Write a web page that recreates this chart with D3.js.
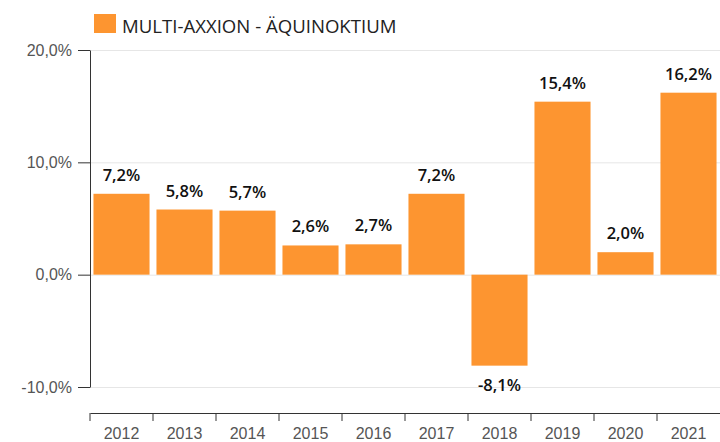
<!DOCTYPE html>
<html>
<head>
<meta charset="utf-8">
<script src="https://cdn.jsdelivr.net/npm/d3@7"></script>
<style>
  body { margin: 0; background: #fff; }
  svg { font-family: "Open Sans", sans-serif; }
  .axis path, .axis line { stroke: #333; }
  .axis text { fill: #555; font-size: 16px; }
  .grid line { stroke: #e6e6e6; }
  .grid path { display: none; }
</style>
</head>
<body>
<svg id="chart" width="720" height="442"></svg>
<script>
const years = ["2012","2013","2014","2015","2016","2017","2018","2019","2020","2021"]
const returns = [7.2, 5.8, 5.7, 2.6, 2.7, 7.2, -8.1, 15.4, 2.0, 16.2]
const yTicks = [-10, 0, 10, 20]
const seriesName = "MULTI-AXXION - ÄQUINOKTIUM"

const barColor = "#fd9530"
// comma decimals and a plain hyphen for negatives
const fmt = v => d3.format(".1f")(v).replace(".", ",").replace("\u2212", "-") + "%"

const svg = d3.select("#chart")
const plot = {left: 90, right: 720, top: 50, bottom: 387, axisY: 413}

const xScale = d3.scaleBand()
    .domain(years)
    .range([plot.left, plot.right])
    .paddingInner(0.11)
    .paddingOuter(0.055)

const yScale = d3.scaleLinear()
    .domain([-10, 20])
    .range([plot.bottom, plot.top])

// gridlines
svg.append("g")
    .attr("class","grid")
    .attr("transform","translate("+plot.left+",0)")
    .call(d3.axisRight(yScale).tickValues(yTicks).tickSize(plot.right - plot.left).tickFormat(""))

// bars
svg.append("g").selectAll("rect")
    .data(years)
    .join("rect")
    .attr("x", d => xScale(d))
    .attr("width", xScale.bandwidth())
    .attr("y", (d,i) => yScale(Math.max(0, returns[i])))
    .attr("height", (d,i) => Math.abs(yScale(returns[i]) - yScale(0)))
    .attr("fill", barColor)

// value labels
svg.append("g").selectAll("text")
    .data(years)
    .join("text")
    .attr("x", d => xScale(d) + xScale.bandwidth()/2)
    .attr("y", (d,i) => returns[i] >= 0 ? yScale(returns[i]) - 13 : yScale(returns[i]) + 25)
    .attr("text-anchor","middle")
    .attr("font-size", 16.5)
    .attr("font-weight", 600)
    .attr("fill", "#111")
    .text((d,i) => fmt(returns[i]))

// y axis
const yAxis = d3.axisLeft(yScale)
    .tickValues(yTicks)
    .tickSize(12)
    .tickSizeOuter(0)
    .tickPadding(6)
    .tickFormat(fmt)
svg.append("g")
    .attr("class","axis yAxis")
    .attr("transform","translate("+plot.left+",0)")
    .call(yAxis)

// x axis: labels centred, ticks at band edges
const xAxis = d3.axisBottom(xScale).tickSize(0).tickSizeOuter(0).tickPadding(15)
const xg = svg.append("g")
    .attr("class","axis xAxis")
    .attr("transform","translate(0,"+plot.axisY+")")
    .call(xAxis)
const step = xScale.step()
const edges = years.map(d => xScale(d) - step*xScale.paddingInner()/2)
xg.selectAll(".edge")
    .data(edges)
    .join("line")
    .attr("class","edge")
    .attr("x1", d => d).attr("x2", d => d)
    .attr("y1", 0).attr("y2", 8)
    .attr("stroke", "#333")

// legend
const legend = svg.append("g").attr("transform","translate(94,14)")
legend.append("rect").attr("width",22).attr("height",19).attr("fill",barColor)
legend.append("text")
    .attr("x",28).attr("y",18.5)
    .attr("font-size",18.6)
    .attr("fill","#222")
    .text(seriesName)
</script>
</body>
</html>
